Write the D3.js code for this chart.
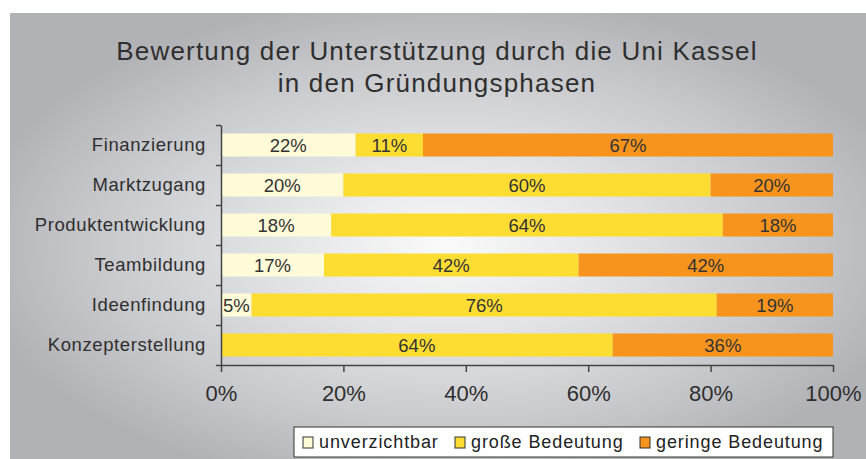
<!DOCTYPE html>
<html><head><meta charset="utf-8">
<script src="https://cdn.jsdelivr.net/npm/d3@7"></script>
<style>body{margin:0;background:#fff}svg{display:block}</style>
</head><body>
<script>
const categories = ["Finanzierung","Marktzugang","Produktentwicklung","Teambildung","Ideenfindung","Konzepterstellung"];
const seriesNames = ["unverzichtbar","große Bedeutung","geringe Bedeutung"];
const unverzichtbar = [22,20,18,17,5,0];
const grosseBedeutung = [11,60,64,42,76,64];
const geringeBedeutung = [67,20,18,42,19,36];
const xTicks = [0,20,40,60,80,100];
const colors = ["#FFFBD8","#FEDD33","#F7941E"];
const titleLines = ["Bewertung der Unterstützung durch die Uni Kassel","in den Gründungsphasen"];

const W=866,H=459;
const svg=d3.select("body").append("svg").attr("width",W).attr("height",H);
const defs=svg.append("defs");
const rg=defs.append("radialGradient").attr("id","bg").attr("cx",0.51).attr("cy",0.52).attr("r",0.56);
[[0,"#fafafa"],[0.35,"#e3e4e6"],[0.75,"#c6c7ca"],[1,"#b1b2b6"]].forEach(s=>rg.append("stop").attr("offset",s[0]).attr("stop-color",s[1]));
svg.append("rect").attr("x",10).attr("y",13).attr("width",W-10).attr("height",H-13).attr("fill","url(#bg)");

const font="'Liberation Sans',Arial,sans-serif";
const ink="#2f2f2f";
const t=svg.append("text").attr("text-anchor","middle").attr("font-family",font).attr("font-size",26).attr("letter-spacing",1.2).attr("fill",ink);
titleLines.forEach((l,i)=>t.append("tspan").attr("x",437).attr("y",60+i*32).text(l));

const rows=categories.map((c,i)=>{const v=[unverzichtbar[i],grosseBedeutung[i],geringeBedeutung[i]];const s=d3.sum(v);let acc=0;return {c,segs:v.map((d,k)=>{const o={k,val:d,x0:acc/s,x1:(acc+d)/s};acc+=d;return o;})};});

const x=d3.scaleLinear().domain([0,1]).range([221,833]);
const y=d3.scaleBand().domain(categories).range([125,365]).paddingInner(0.425).paddingOuter(0.2125);
const yb=d3.scaleLinear().domain([0,categories.length]).range([125,365]);

const g=svg.append("g");
const row=g.selectAll("g.row").data(rows).join("g").attr("transform",d=>`translate(0,${y(d.c)})`);
row.selectAll("rect").data(d=>d.segs.filter(s=>s.val>0)).join("rect")
 .attr("x",d=>x(d.x0)).attr("width",d=>x(d.x1)-x(d.x0)).attr("y",0).attr("height",y.bandwidth()).attr("fill",d=>colors[d.k]);
row.selectAll("text").data(d=>d.segs.filter(s=>s.val>0)).join("text")
 .attr("x",d=>(x(d.x0)+x(d.x1))/2).attr("y",y.bandwidth()/2).attr("dy","0.4em")
 .attr("text-anchor","middle").attr("font-family",font).attr("font-size",18.5).attr("fill","#333")
 .text(d=>d.val+"%");

// y axis
const ya=svg.append("g").attr("transform","translate(221,0)").call(d3.axisLeft(y).tickSize(0).tickPadding(15));
ya.select(".domain").remove();
ya.selectAll("text").attr("font-family",font).attr("font-size",18.5).attr("letter-spacing",0.6).attr("dy","0.35em").attr("fill",ink);
const yt=svg.append("g").attr("transform","translate(221,0)").call(d3.axisLeft(yb).tickValues(d3.range(categories.length+1)).tickFormat("").tickSize(5).tickSizeOuter(0));
yt.selectAll("line,path").attr("stroke","#444").attr("stroke-width",1.5);
// x axis
const xa=svg.append("g").attr("transform","translate(0,365)").call(d3.axisBottom(x).tickValues(xTicks.map(v=>v/100)).tickFormat(d=>Math.round(d*100)+"%").tickSize(7).tickSizeOuter(0).tickPadding(13));
xa.selectAll("line,path").attr("stroke","#444").attr("stroke-width",1.5);
xa.selectAll("text").attr("font-family",font).attr("font-size",22).attr("fill",ink);

// legend
const lg=svg.append("g");
lg.append("rect").attr("x",294).attr("y",427).attr("width",539).attr("height",30).attr("fill","#fff").attr("stroke","#333").attr("stroke-width",1);
const lx=[303,455,640];
seriesNames.forEach((n,i)=>{
 lg.append("rect").attr("x",lx[i]).attr("y",437).attr("width",10).attr("height",11).attr("fill",colors[i]).attr("stroke","#333").attr("stroke-width",1);
 lg.append("text").attr("x",lx[i]+16).attr("y",448).attr("font-family",font).attr("font-size",18).attr("letter-spacing",0.9).attr("fill","#222").text(n);
});
</script>
</body></html>
